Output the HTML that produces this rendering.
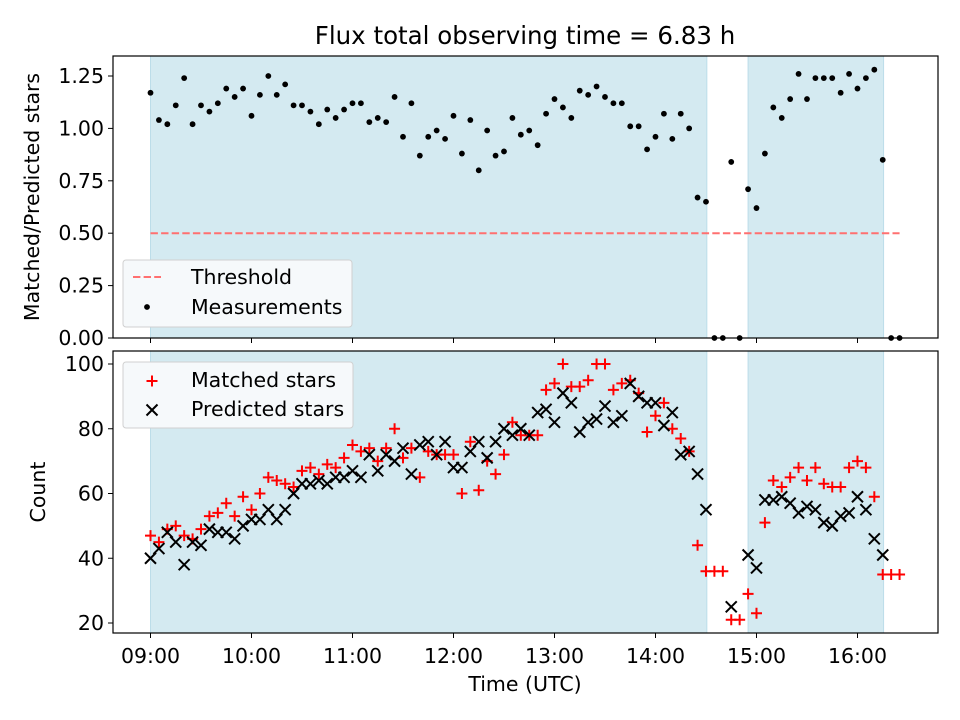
<!DOCTYPE html>
<html><head><meta charset="utf-8">
<style>
body{margin:0;background:#fff;}
svg{display:block;font-family:"DejaVu Sans","Liberation Sans",sans-serif;}
</style></head>
<body>
<svg id="chart" width="960" height="720" viewBox="0 0 960 720" xmlns="http://www.w3.org/2000/svg"></svg>
<script>
// ---- data ----
const ratioValues = [1.17,1.04,1.02,1.11,1.24,1.02,1.11,1.08,1.12,1.19,1.15,1.19,1.06,1.16,1.25,1.16,1.21,1.11,1.11,1.08,1.02,1.09,1.05,1.09,1.12,1.12,1.03,1.05,1.03,1.15,0.96,1.12,0.87,0.96,0.99,0.95,1.06,0.88,1.04,0.80,0.99,0.87,0.89,1.05,0.97,0.99,0.92,1.07,1.14,1.10,1.05,1.18,1.16,1.20,1.15,1.12,1.12,1.01,1.01,0.90,0.96,1.07,0.95,1.07,1.00,0.67,0.65,
 0,0,0.84,0,0.71,0.62,0.88,1.10,1.05,1.14,1.26,1.14,1.24,1.24,1.24,1.17,1.26,1.19,1.24,1.28,0.85,0,0];
const matchedValues = [47,45,49,50,47,46,49,53,54,57,53,59,55,60,65,64,63,62,67,68,66,69,68,71,75,73,74,70,74,80,71,74,65,73,72,72,72,60,76,61,70,66,72,82,
 78,78,78,92,94,100,93,93,95,100,100,92,94,95,91,79,84,88,80,77,73,44,36,
 36,36,21,21,29,23,51,64,62,65,68,64,68,63,62,62,68,70,68,59,35,35,35];
const predictedValues = [40,43,48,45,38,45,44,49,48,48,46,50,52,52,55,52,55,60,63,63,64,63,65,65,67,65,72,67,72,70,74,66,75,76,72,76,68,68,73,76,71,76,80,78,
 80,78,85,86,82,91,88,79,82,83,87,82,84,94,90,88,88,81,85,72,73,66,55,
 null,null,25,null,41,37,58,58,59,57,54,56,55,51,50,53,54,59,55,46,41,null,null];
const stepMinutes = [5];
const spans = [[0,330.5],[355,435.5]];
const thresholdValue = [0.5];
const xTickMinutes = [0,60,120,180,240,300,360,420];
const xTickLabels = ["09:00","10:00","11:00","12:00","13:00","14:00","15:00","16:00"];
const topTicks = [0,0.25,0.5,0.75,1.0,1.25];
const topTickLabels = ["0.00","0.25","0.50","0.75","1.00","1.25"];
const bottomTicks = [20,40,60,80,100];

// ---- axes ----
const NS="http://www.w3.org/2000/svg";
const svg=document.getElementById('chart');
const X0=113,X1=938;
const FS=20.5;
const xs = t => 150.5 + t*1.6833;
const topY = v => 338 - v*209.6;
const botY = v => 623 - (v-20)*3.2375;
function el(tag,attrs,parent){const e=document.createElementNS(NS,tag);for(const k in attrs)e.setAttribute(k,attrs[k]);(parent||svg).appendChild(e);return e;}

function panel(y0,y1,name){
  const g=el('g',{});
  
  
  spans.forEach((s,i)=>{
    const r=el('rect',{x:xs(s[0]),y:y0,width:xs(s[1])-xs(s[0]),height:y1-y0,fill:'#d4eaf1',stroke:'#bcdde9','stroke-width':1},g);
    
    
  });
  return g;
}
function frame(y0,y1,name){
  const r=el('rect',{x:X0,y:y0,width:X1-X0,height:y1-y0,fill:'none',stroke:'#000','stroke-width':1.2});
  
  
}
function xticks(yb,withLabels){
  xTickMinutes.forEach((t,i)=>{
    el('line',{x1:xs(t),x2:xs(t),y1:yb,y2:yb+5,stroke:'#000','stroke-width':1});
    if(withLabels){
      const tx=el('text',{x:xs(t),y:yb+30,'text-anchor':'middle','font-size':FS});
      tx.textContent=xTickLabels[i];
      
      
    }
  });
}

// ---- top panel ----
const T0=56,T1=338;
panel(T0,T1,'top-panel');
const thr=el('line',{x1:xs(0),x2:xs(445),y1:topY(thresholdValue[0]),y2:topY(thresholdValue[0]),stroke:'#ff7070','stroke-width':2,'stroke-dasharray':'7.4,3.2'});


const dotsG=el('g',{});


ratioValues.forEach((v,i)=>{
  const t=i*stepMinutes[0];
  const c=el('circle',{cx:xs(t),cy:topY(v),r:2.9,fill:'#000'},dotsG);
  
  
});
frame(T0,T1,'top-axes-frame');
xticks(T1,false);
topTicks.forEach((v,i)=>{
  el('line',{x1:X0-5,x2:X0,y1:topY(v),y2:topY(v),stroke:'#000'});
  const tx=el('text',{x:X0-9,y:topY(v)+7,'text-anchor':'end','font-size':FS});
  tx.textContent=topTickLabels[i];
  
  
});
const ttl=el('text',{x:525,y:44,'text-anchor':'middle','font-size':24.5});
ttl.textContent='Flux total observing time = 6.83 h';


const yl1=el('text',{transform:'translate(39,197) rotate(-90)','text-anchor':'middle','font-size':FS});
yl1.textContent='Matched/Predicted stars';


// legend top
const lg1=el('g',{});


el('rect',{x:123,y:260,width:229,height:67,rx:3,fill:'#f6f9fb',stroke:'#d0d0d0'},lg1);
el('line',{x1:133,x2:161,y1:277,y2:277,stroke:'#ff7070','stroke-width':2,'stroke-dasharray':'7.4,3.2'},lg1);
const l1=el('text',{x:191,y:284,'font-size':FS},lg1);l1.textContent='Threshold';


el('circle',{cx:147,cy:307,r:2.9,fill:'#000'},lg1);
const l2=el('text',{x:191,y:314,'font-size':FS},lg1);l2.textContent='Measurements';



// ---- bottom panel ----
const B0=351,B1=633;
panel(B0,B1,'bottom-panel');
function plus(x,y,g){el('path',{d:`M${x-5.5},${y}H${x+5.5}M${x},${y-5.5}V${y+5.5}`,stroke:'#ff0000','stroke-width':2},g);}
function cross(x,y,g){el('path',{d:`M${x-5.5},${y-5.5}L${x+5.5},${y+5.5}M${x-5.5},${y+5.5}L${x+5.5},${y-5.5}`,stroke:'#000','stroke-width':2},g);}
const mG=el('g',{});


matchedValues.forEach((v,i)=>{ if(v===null)return; plus(xs(i*stepMinutes[0]),botY(v),mG); });
const pG=el('g',{});


predictedValues.forEach((v,i)=>{ if(v===null)return; cross(xs(i*stepMinutes[0]),botY(v),pG); });
frame(B0,B1,'bottom-axes-frame');
xticks(B1,true);
bottomTicks.forEach(v=>{
  el('line',{x1:X0-5,x2:X0,y1:botY(v),y2:botY(v),stroke:'#000'});
  const tx=el('text',{x:X0-9,y:botY(v)+7,'text-anchor':'end','font-size':FS});
  tx.textContent=String(v);
  
  
});
const yl2=el('text',{transform:'translate(45,492) rotate(-90)','text-anchor':'middle','font-size':FS});
yl2.textContent='Count';


const xl=el('text',{x:525,y:691,'text-anchor':'middle','font-size':FS});
xl.textContent='Time (UTC)';


const lg2=el('g',{});


el('rect',{x:123,y:362,width:230,height:66,rx:3,fill:'#f6f9fb',stroke:'#d0d0d0'},lg2);
plus(152,381,lg2);
const l3=el('text',{x:191,y:387,'font-size':FS},lg2);l3.textContent='Matched stars';


cross(152,410,lg2);
const l4=el('text',{x:191,y:416,'font-size':FS},lg2);l4.textContent='Predicted stars';


</script>
</body></html>
